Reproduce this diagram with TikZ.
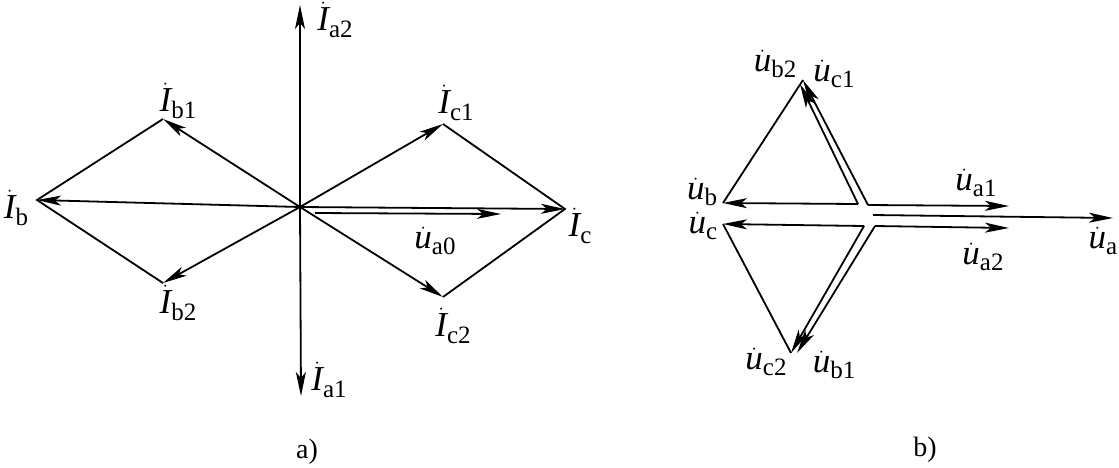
\documentclass[tikz,border=0pt]{standalone}
\usepackage{fontspec}
\setmainfont{Liberation Serif}
\usetikzlibrary{arrows.meta}
\newcommand{\phasor}[2]{$\dot{\mbox{\itshape #1}}$\raisebox{-0.4ex}{\fontsize{25}{28}\selectfont #2}}
\tikzset{
	lab/.style={inner sep=0pt,font=\fontsize{35}{38}\selectfont},
	title/.style={inner sep=0pt,font=\fontsize{28}{31}\selectfont},
	vec/.style={line width=1.8pt,-{Stealth[length=24pt,width=10pt,inset=6pt]}},
	seg/.style={line width=1.8pt}
}

\begin{document}
\begin{tikzpicture}[x=1pt, y=-1pt]
	\useasboundingbox (0,0) rectangle (1119,467);
	% a)
	\coordinate (o) at (300,207);
	\coordinate (a2) at (300,5);
	\coordinate (a1) at (301,396);
	\coordinate (b) at (37,200);
	\coordinate (c) at (565,209);
	\coordinate (b1) at (163,119);
	\coordinate (b2) at (163,283);
	\coordinate (c1) at (443,124);
	\coordinate (c2) at (443,297);
	\coordinate (u0s) at (315,213);
	\coordinate (u0) at (501,214);
	\node[lab] (La2) at (335,20) {\phasor{I}{a2}};
	\node[lab] (La1) at (329,380) {\phasor{I}{a1}};
	\node[lab] (Lb1) at (178,101) {\phasor{I}{b1}};
	\node[lab] (Lb2) at (178,303) {\phasor{I}{b2}};
	\node[lab] (Lc1) at (456,103) {\phasor{I}{c1}};
	\node[lab] (Lc2) at (453,326) {\phasor{I}{c2}};
	\node[lab] (Lb) at (16,208) {\phasor{I}{b}};
	\node[lab] (Lc) at (580,226) {\phasor{I}{c}};
	\node[lab] (Lu0) at (435,241) {\phasor{u}{a0}};
	\node[title] (La) at (307,452) {a)};
	\draw[vec] (o) -- (a2);
	\draw[vec] (o) -- (a1);
	\draw[vec] (o) -- (b);
	\draw[vec] (o) -- (c);
	\draw[vec] (o) -- (b1);
	\draw[vec] (o) -- (b2);
	\draw[vec] (o) -- (c1);
	\draw[vec] (o) -- (c2);
	\draw[vec] (u0s) -- (u0);
	\draw[seg] (b1) -- (b) -- (b2);
	\draw[seg] (c1) -- (c) -- (c2);
	% b)
	\coordinate (ju1) at (858,204);
	\coordinate (ju2) at (868,205);
	\coordinate (jl1) at (864,226);
	\coordinate (jl2) at (875,226);
	\coordinate (uas) at (873,215);
	\coordinate (ua) at (1113,218);
	\coordinate (ua1) at (1009,206);
	\coordinate (ua2) at (1009,228);
	\coordinate (ub) at (723,203);
	\coordinate (uc) at (723,224);
	\coordinate (ub2) at (800,84);
	\coordinate (uc1) at (803,80);
	\coordinate (uc2) at (791,353);
	\coordinate (ub1) at (797,353);
	\node[lab] (Mb2) at (775,64) {\phasor{u}{b2}};
	\node[lab] (Mc1) at (834,74) {\phasor{u}{c1}};
	\node[lab] (Mb) at (702,192) {\phasor{u}{b}};
	\node[lab] (Mc) at (703,226) {\phasor{u}{c}};
	\node[lab] (Ma1) at (976,183) {\phasor{u}{a1}};
	\node[lab] (Ma2) at (983,257) {\phasor{u}{a2}};
	\node[lab] (Ma) at (1103,241) {\phasor{u}{a}};
	\node[lab] (Mc2) at (766,362) {\phasor{u}{c2}};
	\node[lab] (Mb1) at (834,365) {\phasor{u}{b1}};
	\node[title] (Lbb) at (925,450) {b)};
	\draw[vec] (ju1) -- (ub);
	\draw[vec] (jl1) -- (uc);
	\draw[vec] (ju1) -- (ub2);
	\draw[vec] (ju2) -- (uc1);
	\draw[vec] (jl1) -- (uc2);
	\draw[vec] (jl2) -- (ub1);
	\draw[vec] (ju2) -- (ua1);
	\draw[vec] (jl2) -- (ua2);
	\draw[vec] (uas) -- (ua);
	\draw[seg] (ub) -- (uc1);
	\draw[seg] (uc) -- (uc2);
\end{tikzpicture}
\end{document}
